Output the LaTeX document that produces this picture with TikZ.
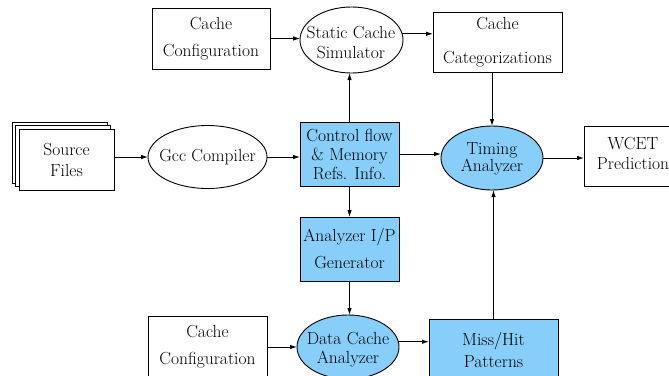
\documentclass[tikz,border=0pt]{standalone}
\usetikzlibrary{shapes.geometric,arrows.meta}
\definecolor{lblue}{RGB}{135,206,250}
\begin{document}
\begin{tikzpicture}[x=1pt,y=-1pt,
  every node/.style={inner sep=0pt, outer sep=0pt},
  ls/.style={font=\rmfamily\fontsize{17.5}{#1}\selectfont},
  rbox/.style={draw, line width=0.9pt, rectangle, align=center},
  ell/.style={draw, line width=0.9pt, ellipse},
  hl/.style={fill=lblue},
  txt/.style={align=center},
  arr/.style={-{Latex[length=7pt,width=4.5pt]}, line width=0.9pt}]
\useasboundingbox (0,0) rectangle (669,375);
\clip (0,0) rectangle (669,375);
% top row
\node[rbox, ls=26.5, minimum width=118pt, minimum height=61pt] (cfgA) at (211,38.5) {Cache\\Configuration};
\node[ell, minimum width=103pt, minimum height=66pt] (sim) at (351.5,40) {};
\node[txt, ls=20] (simt) at (351,43) {Static Cache\\Simulator};
\node[rbox, ls=34, minimum width=129pt, minimum height=60pt] (cat) at (497.5,42) {Cache\\Categorizations};
% middle row
\node[rbox, fill=white, minimum width=95pt, minimum height=61pt] (srcC) at (59.5,152.5) {};
\node[rbox, fill=white, minimum width=95pt, minimum height=61pt] (srcB) at (63,156) {};
\node[rbox, fill=white, ls=21, minimum width=95pt, minimum height=61pt] (src) at (66.5,159.5) {Source\\Files};
\node[ell, minimum width=119pt, minimum height=63pt] (gcc) at (207.5,157) {};
\node[txt, ls=20] (gcct) at (207.5,157) {Gcc Compiler};
\node[rbox, hl, ls=19, minimum width=99pt, minimum height=64pt] (ctl) at (349.5,154) {Control flow\\\& Memory\\Refs. Info.};
\node[ell, hl, minimum width=102pt, minimum height=64pt] (tim) at (492,158) {};
\node[txt, ls=15] (timt) at (492,158.5) {Timing\\Analyzer};
\node[rbox, minimum width=102pt, minimum height=60pt] (wcet) at (635,156) {};
\node[txt, ls=20] (wcett) at (633,153) {WCET\\Prediction};
% lower rows
\node[rbox, hl, ls=27, minimum width=99pt, minimum height=64pt] (gen) at (349.5,249) {Analyzer I/P\\Generator};
\node[rbox, ls=27, minimum width=119pt, minimum height=62pt] (cfgB) at (207.5,347) {Cache\\Configuration};
\node[ell, hl, minimum width=102pt, minimum height=64pt] (dca) at (348,347) {};
\node[txt, ls=19] (dcat) at (348,349.5) {Data Cache\\Analyzer};
\node[rbox, hl, ls=22, minimum width=129pt, minimum height=62pt] (mh) at (493.5,350) {Miss/Hit\\Patterns};
% connectors
\draw[arr] (cfgA.east) -- (cfgA.east -| sim.west);
\draw[arr] (sim.7) -- (sim.7 -| cat.west);
\draw[arr] (cat.south -| tim.north) -- (tim.north);
\draw[arr] (ctl.north) -- (ctl.north |- sim.south);
\draw[arr] (gcc.west -| src.east) -- (gcc.west);
\draw[arr] (gcc.east) -- (gcc.east -| ctl.west);
\draw[arr] (ctl.east) -- (ctl.east -| tim.west);
\draw[arr] (tim.east) -- (tim.east -| wcet.west);
\draw[arr] (ctl.south) -- (gen.north);
\draw[arr] (gen.south) -- (gen.south |- dca.north);
\draw[arr] (cfgB.east) -- (cfgB.east -| dca.west);
\draw[arr] (dca.6) -- (dca.6 -| mh.west);
\draw[arr] (mh.north) -- (mh.north |- tim.south);
\end{tikzpicture}
\end{document}
